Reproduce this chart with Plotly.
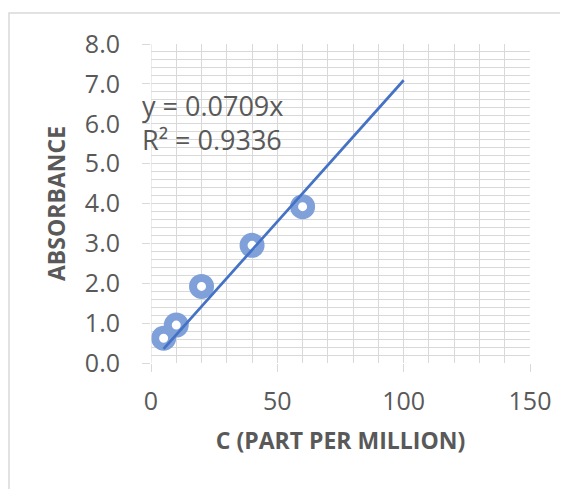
import plotly.graph_objects as go

conc = [5, 10, 20, 40, 60]
absorbance = [0.62, 0.95, 1.92, 2.95, 3.92]
slope = 0.0709
trend_x = [5, 100]
trend_y = [slope * v for v in trend_x]
eq_line1 = "y = 0.0709x"
eq_line2 = "R² = 0.9336"
x_title = "C (PART PER MILLION)"
y_title = "ABSORBANCE"

W, H = 568, 489
OFF = 8  # page body offset
L, T = 151 - OFF, 44 - OFF
pw, ph = 379, 319
R, B = W - L - pw, H - T - ph

fig = go.Figure()
fig.add_trace(go.Scatter(
    x=conc, y=absorbance, mode="markers",
    marker=dict(symbol="circle", size=17, color="white",
                line=dict(width=8, color="rgb(128,160,218)")),
    showlegend=False, hoverinfo="skip"))
fig.add_trace(go.Scatter(
    x=trend_x, y=trend_y, mode="lines",
    line=dict(color="#4472C4", width=2.75), showlegend=False))

font = "Open Sans, Liberation Sans, sans-serif"
grid = "#D9D9D9"
txt = "#595959"
fig.update_layout(
    width=W, height=H,
    margin=dict(l=L, r=R, t=T, b=B),
    paper_bgcolor="white", plot_bgcolor="white",
    font=dict(family=font, color=txt),
    xaxis=dict(range=[0, 150], dtick=50, tick0=0,
               showgrid=True, gridcolor=grid, gridwidth=1,
               minor=dict(dtick=10, showgrid=True, gridcolor=grid, gridwidth=1),
               zeroline=False, showline=False,
               ticks="outside", ticklen=8, tickcolor=grid,
               ticklabelstandoff=8,
               tickfont=dict(size=25, color=txt),
               title=dict(text="<b>" + x_title + "</b>", font=dict(size=23, color=txt), standoff=16)),
    yaxis=dict(range=[0, 8], dtick=1, tick0=0, tickformat=".1f",
               showgrid=True, gridcolor=grid, gridwidth=1,
               minor=dict(dtick=0.2, showgrid=True, gridcolor=grid, gridwidth=1),
               zeroline=False, showline=False,
               ticks="outside", ticklen=8, tickcolor=grid,
               ticklabelstandoff=17,
               tickfont=dict(size=25, color=txt),
               title=dict(text="<b>" + y_title + "</b>", font=dict(size=23, color=txt), standoff=12)),
)
fig.add_shape(type="line", xref="x", yref="paper", x0=0, x1=0, y0=0, y1=1,
              line=dict(color=grid, width=1))
fig.add_shape(type="rect", xref="paper", yref="paper",
              x0=(1 - L) / pw, x1=(W + 5 - L) / pw,
              y0=-(H + 5 - T - ph) / ph, y1=1 + (T - 5) / ph,
              line=dict(color="#D9D9D9", width=1.5), layer="below")
for txt_line, py in [(eq_line1, 105), (eq_line2, 139)]:
    fig.add_annotation(text=txt_line, xref="paper", yref="paper",
                       x=(140 - 151) / pw, y=1 - (py - 44) / ph,
                       xanchor="left", yanchor="middle",
                       showarrow=False, align="left",
                       font=dict(size=27, color=txt, family=font))
fig.write_html("out.html")
